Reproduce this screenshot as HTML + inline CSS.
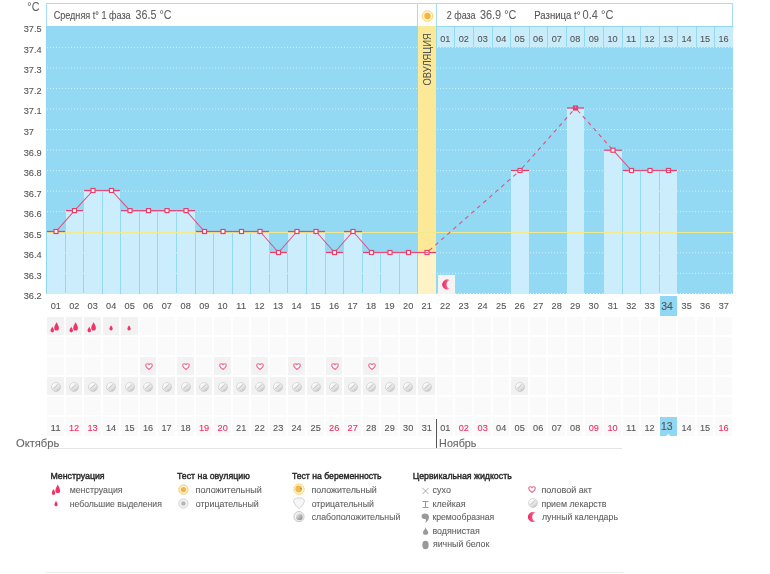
<!DOCTYPE html>
<html><head><meta charset="utf-8"><title>BBT chart</title>
<style>
*{margin:0;padding:0;box-sizing:border-box}
html,body{width:770px;height:574px;background:#fff;overflow:hidden}
body{position:relative;font-family:"Liberation Sans",sans-serif;color:#555}
.a{position:absolute}
svg text{font-family:"Liberation Sans",sans-serif}
</style></head><body>

<div class="a" style="left:46px;top:3px;width:687px;height:24px;border:1px solid #a6def5;border-bottom:none;background:#fff"></div>
<div class="a" style="left:417px;top:3px;width:1px;height:24px;background:#a6def5"></div>
<div class="a" style="left:436px;top:3px;width:1px;height:24px;background:#a6def5"></div>
<svg class="a" style="left:0;top:0" width="770" height="300" viewBox="0 0 770 300"><rect x="46" y="26" width="687" height="268" fill="#93d9f3"/>
<rect x="46" y="26" width="1" height="268" fill="#8fd6f1"/>
<line x1="47" y1="47.40" x2="733" y2="47.40" stroke="#fff" stroke-opacity="0.62" stroke-width="1" stroke-dasharray="1 2"/>
<line x1="47" y1="67.93" x2="733" y2="67.93" stroke="#fff" stroke-opacity="0.62" stroke-width="1" stroke-dasharray="1 2"/>
<line x1="47" y1="88.47" x2="733" y2="88.47" stroke="#fff" stroke-opacity="0.62" stroke-width="1" stroke-dasharray="1 2"/>
<line x1="47" y1="109.00" x2="733" y2="109.00" stroke="#fff" stroke-opacity="0.62" stroke-width="1" stroke-dasharray="1 2"/>
<line x1="47" y1="129.54" x2="733" y2="129.54" stroke="#fff" stroke-opacity="0.62" stroke-width="1" stroke-dasharray="1 2"/>
<line x1="47" y1="150.08" x2="733" y2="150.08" stroke="#fff" stroke-opacity="0.62" stroke-width="1" stroke-dasharray="1 2"/>
<line x1="47" y1="170.61" x2="733" y2="170.61" stroke="#fff" stroke-opacity="0.62" stroke-width="1" stroke-dasharray="1 2"/>
<line x1="47" y1="191.15" x2="733" y2="191.15" stroke="#fff" stroke-opacity="0.62" stroke-width="1" stroke-dasharray="1 2"/>
<line x1="47" y1="211.68" x2="733" y2="211.68" stroke="#fff" stroke-opacity="0.62" stroke-width="1" stroke-dasharray="1 2"/>
<line x1="47" y1="252.76" x2="733" y2="252.76" stroke="#fff" stroke-opacity="0.62" stroke-width="1" stroke-dasharray="1 2"/>
<line x1="47" y1="273.29" x2="733" y2="273.29" stroke="#fff" stroke-opacity="0.62" stroke-width="1" stroke-dasharray="1 2"/>
<line x1="47" y1="293.5" x2="733" y2="293.5" stroke="#fff" stroke-opacity="0.7" stroke-width="1" stroke-dasharray="1 2"/>
<rect x="418" y="26" width="18" height="268" fill="#fbe997"/>
<rect x="47" y="231.50" width="18" height="62.50" fill="#ccedfb"/>
<rect x="66" y="210.60" width="17" height="83.40" fill="#ccedfb"/>
<rect x="84" y="190.50" width="18" height="103.50" fill="#ccedfb"/>
<rect x="103" y="190.50" width="17" height="103.50" fill="#ccedfb"/>
<rect x="121" y="210.60" width="18" height="83.40" fill="#ccedfb"/>
<rect x="140" y="210.60" width="17" height="83.40" fill="#ccedfb"/>
<rect x="158" y="210.60" width="18" height="83.40" fill="#ccedfb"/>
<rect x="177" y="210.60" width="18" height="83.40" fill="#ccedfb"/>
<rect x="196" y="231.50" width="17" height="62.50" fill="#ccedfb"/>
<rect x="214" y="231.50" width="18" height="62.50" fill="#ccedfb"/>
<rect x="233" y="231.50" width="17" height="62.50" fill="#ccedfb"/>
<rect x="251" y="231.50" width="18" height="62.50" fill="#ccedfb"/>
<rect x="270" y="252.50" width="17" height="41.50" fill="#ccedfb"/>
<rect x="288" y="231.50" width="18" height="62.50" fill="#ccedfb"/>
<rect x="307" y="231.50" width="18" height="62.50" fill="#ccedfb"/>
<rect x="326" y="252.50" width="17" height="41.50" fill="#ccedfb"/>
<rect x="344" y="231.50" width="18" height="62.50" fill="#ccedfb"/>
<rect x="363" y="252.50" width="17" height="41.50" fill="#ccedfb"/>
<rect x="381" y="252.50" width="18" height="41.50" fill="#ccedfb"/>
<rect x="400" y="252.50" width="17" height="41.50" fill="#ccedfb"/>
<rect x="418" y="252.50" width="18" height="41.50" fill="#fdf3c6"/>
<rect x="511" y="170.50" width="18" height="123.50" fill="#ccedfb"/>
<rect x="567" y="108.00" width="17" height="186.00" fill="#ccedfb"/>
<rect x="604" y="150.20" width="18" height="143.80" fill="#ccedfb"/>
<rect x="623" y="170.50" width="17" height="123.50" fill="#ccedfb"/>
<rect x="641" y="170.50" width="18" height="123.50" fill="#ccedfb"/>
<rect x="660" y="170.50" width="17" height="123.50" fill="#ccedfb"/>
<rect x="437" y="27" width="17" height="20" fill="#c9ecfa"/>
<rect x="455" y="27" width="18" height="20" fill="#c9ecfa"/>
<rect x="474" y="27" width="18" height="20" fill="#c9ecfa"/>
<rect x="493" y="27" width="17" height="20" fill="#c9ecfa"/>
<rect x="511" y="27" width="18" height="20" fill="#c9ecfa"/>
<rect x="530" y="27" width="17" height="20" fill="#c9ecfa"/>
<rect x="548" y="27" width="18" height="20" fill="#c9ecfa"/>
<rect x="567" y="27" width="17" height="20" fill="#c9ecfa"/>
<rect x="585" y="27" width="18" height="20" fill="#c9ecfa"/>
<rect x="604" y="27" width="18" height="20" fill="#c9ecfa"/>
<rect x="623" y="27" width="17" height="20" fill="#c9ecfa"/>
<rect x="641" y="27" width="18" height="20" fill="#c9ecfa"/>
<rect x="660" y="27" width="17" height="20" fill="#c9ecfa"/>
<rect x="678" y="27" width="18" height="20" fill="#c9ecfa"/>
<rect x="697" y="27" width="17" height="20" fill="#c9ecfa"/>
<rect x="715" y="27" width="18" height="20" fill="#c9ecfa"/>
<line x1="47" y1="232.5" x2="733" y2="232.5" stroke="#f0ea8c" stroke-width="1"/>
<line x1="47" y1="231.50" x2="65" y2="231.50" stroke="#e83e6c" stroke-width="1.25"/>
<line x1="66" y1="210.60" x2="83" y2="210.60" stroke="#e83e6c" stroke-width="1.25"/>
<line x1="84" y1="190.50" x2="102" y2="190.50" stroke="#e83e6c" stroke-width="1.25"/>
<line x1="103" y1="190.50" x2="120" y2="190.50" stroke="#e83e6c" stroke-width="1.25"/>
<line x1="121" y1="210.60" x2="139" y2="210.60" stroke="#e83e6c" stroke-width="1.25"/>
<line x1="140" y1="210.60" x2="157" y2="210.60" stroke="#e83e6c" stroke-width="1.25"/>
<line x1="158" y1="210.60" x2="176" y2="210.60" stroke="#e83e6c" stroke-width="1.25"/>
<line x1="177" y1="210.60" x2="195" y2="210.60" stroke="#e83e6c" stroke-width="1.25"/>
<line x1="196" y1="231.50" x2="213" y2="231.50" stroke="#e83e6c" stroke-width="1.25"/>
<line x1="214" y1="231.50" x2="232" y2="231.50" stroke="#e83e6c" stroke-width="1.25"/>
<line x1="233" y1="231.50" x2="250" y2="231.50" stroke="#e83e6c" stroke-width="1.25"/>
<line x1="251" y1="231.50" x2="269" y2="231.50" stroke="#e83e6c" stroke-width="1.25"/>
<line x1="270" y1="252.50" x2="287" y2="252.50" stroke="#e83e6c" stroke-width="1.25"/>
<line x1="288" y1="231.50" x2="306" y2="231.50" stroke="#e83e6c" stroke-width="1.25"/>
<line x1="307" y1="231.50" x2="325" y2="231.50" stroke="#e83e6c" stroke-width="1.25"/>
<line x1="326" y1="252.50" x2="343" y2="252.50" stroke="#e83e6c" stroke-width="1.25"/>
<line x1="344" y1="231.50" x2="362" y2="231.50" stroke="#e83e6c" stroke-width="1.25"/>
<line x1="363" y1="252.50" x2="380" y2="252.50" stroke="#e83e6c" stroke-width="1.25"/>
<line x1="381" y1="252.50" x2="399" y2="252.50" stroke="#e83e6c" stroke-width="1.25"/>
<line x1="400" y1="252.50" x2="417" y2="252.50" stroke="#e83e6c" stroke-width="1.25"/>
<line x1="418" y1="252.50" x2="436" y2="252.50" stroke="#e83e6c" stroke-width="1.25"/>
<line x1="511" y1="170.50" x2="529" y2="170.50" stroke="#e83e6c" stroke-width="1.25"/>
<line x1="567" y1="108.00" x2="584" y2="108.00" stroke="#e83e6c" stroke-width="1.25"/>
<line x1="604" y1="150.20" x2="622" y2="150.20" stroke="#e83e6c" stroke-width="1.25"/>
<line x1="623" y1="170.50" x2="640" y2="170.50" stroke="#e83e6c" stroke-width="1.25"/>
<line x1="641" y1="170.50" x2="659" y2="170.50" stroke="#e83e6c" stroke-width="1.25"/>
<line x1="660" y1="170.50" x2="677" y2="170.50" stroke="#e83e6c" stroke-width="1.25"/>
<rect x="438" y="275" width="17" height="19" fill="#f4f4f4"/>
<path d="M7.68 0.78 A5 5 0 1 0 7.68 9.22 A4.3 4.3 0 0 1 7.68 0.78Z" fill="url(#mg)" transform="translate(442.3 279.4)"/>
<line x1="56.0" y1="231.5" x2="74.5" y2="210.6" stroke="#e64a78" stroke-width="1.05"/>
<line x1="74.5" y1="210.6" x2="93.0" y2="190.5" stroke="#e64a78" stroke-width="1.05"/>
<line x1="93.0" y1="190.5" x2="111.5" y2="190.5" stroke="#e64a78" stroke-width="1.05"/>
<line x1="111.5" y1="190.5" x2="130.0" y2="210.6" stroke="#e64a78" stroke-width="1.05"/>
<line x1="130.0" y1="210.6" x2="148.5" y2="210.6" stroke="#e64a78" stroke-width="1.05"/>
<line x1="148.5" y1="210.6" x2="167.0" y2="210.6" stroke="#e64a78" stroke-width="1.05"/>
<line x1="167.0" y1="210.6" x2="186.0" y2="210.6" stroke="#e64a78" stroke-width="1.05"/>
<line x1="186.0" y1="210.6" x2="204.5" y2="231.5" stroke="#e64a78" stroke-width="1.05"/>
<line x1="204.5" y1="231.5" x2="223.0" y2="231.5" stroke="#e64a78" stroke-width="1.05"/>
<line x1="223.0" y1="231.5" x2="241.5" y2="231.5" stroke="#e64a78" stroke-width="1.05"/>
<line x1="241.5" y1="231.5" x2="260.0" y2="231.5" stroke="#e64a78" stroke-width="1.05"/>
<line x1="260.0" y1="231.5" x2="278.5" y2="252.5" stroke="#e64a78" stroke-width="1.05"/>
<line x1="278.5" y1="252.5" x2="297.0" y2="231.5" stroke="#e64a78" stroke-width="1.05"/>
<line x1="297.0" y1="231.5" x2="316.0" y2="231.5" stroke="#e64a78" stroke-width="1.05"/>
<line x1="316.0" y1="231.5" x2="334.5" y2="252.5" stroke="#e64a78" stroke-width="1.05"/>
<line x1="334.5" y1="252.5" x2="353.0" y2="231.5" stroke="#e64a78" stroke-width="1.05"/>
<line x1="353.0" y1="231.5" x2="371.5" y2="252.5" stroke="#e64a78" stroke-width="1.05"/>
<line x1="371.5" y1="252.5" x2="390.0" y2="252.5" stroke="#e64a78" stroke-width="1.05"/>
<line x1="390.0" y1="252.5" x2="408.5" y2="252.5" stroke="#e64a78" stroke-width="1.05"/>
<line x1="408.5" y1="252.5" x2="427.0" y2="252.5" stroke="#e64a78" stroke-width="1.05"/>
<line x1="427.0" y1="252.5" x2="520.0" y2="170.5" stroke="#e64a78" stroke-width="1.05" stroke-dasharray="4 4" stroke-dashoffset="-3"/>
<line x1="520.0" y1="170.5" x2="575.5" y2="108.0" stroke="#e64a78" stroke-width="1.05" stroke-dasharray="4 4" stroke-dashoffset="-3"/>
<line x1="575.5" y1="108.0" x2="613.0" y2="150.2" stroke="#e64a78" stroke-width="1.05" stroke-dasharray="4 4" stroke-dashoffset="-3"/>
<line x1="613.0" y1="150.2" x2="631.5" y2="170.5" stroke="#e64a78" stroke-width="1.05"/>
<line x1="631.5" y1="170.5" x2="650.0" y2="170.5" stroke="#e64a78" stroke-width="1.05"/>
<line x1="650.0" y1="170.5" x2="668.5" y2="170.5" stroke="#e64a78" stroke-width="1.05"/>
<rect x="54.0" y="229.5" width="4" height="4" fill="#fff" stroke="#e83e6c" stroke-width="1.2"/>
<rect x="72.5" y="208.6" width="4" height="4" fill="#fff" stroke="#e83e6c" stroke-width="1.2"/>
<rect x="91.0" y="188.5" width="4" height="4" fill="#fff" stroke="#e83e6c" stroke-width="1.2"/>
<rect x="109.5" y="188.5" width="4" height="4" fill="#fff" stroke="#e83e6c" stroke-width="1.2"/>
<rect x="128.0" y="208.6" width="4" height="4" fill="#fff" stroke="#e83e6c" stroke-width="1.2"/>
<rect x="146.5" y="208.6" width="4" height="4" fill="#fff" stroke="#e83e6c" stroke-width="1.2"/>
<rect x="165.0" y="208.6" width="4" height="4" fill="#fff" stroke="#e83e6c" stroke-width="1.2"/>
<rect x="184.0" y="208.6" width="4" height="4" fill="#fff" stroke="#e83e6c" stroke-width="1.2"/>
<rect x="202.5" y="229.5" width="4" height="4" fill="#fff" stroke="#e83e6c" stroke-width="1.2"/>
<rect x="221.0" y="229.5" width="4" height="4" fill="#fff" stroke="#e83e6c" stroke-width="1.2"/>
<rect x="239.5" y="229.5" width="4" height="4" fill="#fff" stroke="#e83e6c" stroke-width="1.2"/>
<rect x="258.0" y="229.5" width="4" height="4" fill="#fff" stroke="#e83e6c" stroke-width="1.2"/>
<rect x="276.5" y="250.5" width="4" height="4" fill="#fff" stroke="#e83e6c" stroke-width="1.2"/>
<rect x="295.0" y="229.5" width="4" height="4" fill="#fff" stroke="#e83e6c" stroke-width="1.2"/>
<rect x="314.0" y="229.5" width="4" height="4" fill="#fff" stroke="#e83e6c" stroke-width="1.2"/>
<rect x="332.5" y="250.5" width="4" height="4" fill="#fff" stroke="#e83e6c" stroke-width="1.2"/>
<rect x="351.0" y="229.5" width="4" height="4" fill="#fff" stroke="#e83e6c" stroke-width="1.2"/>
<rect x="369.5" y="250.5" width="4" height="4" fill="#fff" stroke="#e83e6c" stroke-width="1.2"/>
<rect x="388.0" y="250.5" width="4" height="4" fill="#fff" stroke="#e83e6c" stroke-width="1.2"/>
<rect x="406.5" y="250.5" width="4" height="4" fill="#fff" stroke="#e83e6c" stroke-width="1.2"/>
<rect x="425.0" y="250.5" width="4" height="4" fill="#fff" stroke="#e83e6c" stroke-width="1.2"/>
<line x1="425.5" y1="252.5" x2="428.5" y2="252.5" stroke="#e83e6c" stroke-width="1" stroke-opacity="0.8"/>
<rect x="518.0" y="168.5" width="4" height="4" fill="#fff" stroke="#e83e6c" stroke-width="1.2"/>
<line x1="518.5" y1="170.5" x2="521.5" y2="170.5" stroke="#e83e6c" stroke-width="1" stroke-opacity="0.8"/>
<rect x="573.5" y="106.0" width="4" height="4" fill="#e83e6c" stroke="#e83e6c" stroke-width="1.2"/>
<rect x="575.0" y="106.5" width="1.2" height="1.2" fill="#f7a0b8"/>
<rect x="611.0" y="148.2" width="4" height="4" fill="#fff" stroke="#e83e6c" stroke-width="1.2"/>
<rect x="629.5" y="168.5" width="4" height="4" fill="#fff" stroke="#e83e6c" stroke-width="1.2"/>
<rect x="648.0" y="168.5" width="4" height="4" fill="#fff" stroke="#e83e6c" stroke-width="1.2"/>
<rect x="666.5" y="168.5" width="4" height="4" fill="#fff" stroke="#e83e6c" stroke-width="1.2"/>
<line x1="667.0" y1="170.5" x2="670.0" y2="170.5" stroke="#e83e6c" stroke-width="1" stroke-opacity="0.8"/></svg>
<div class="a" style="left:660px;top:296px;width:17px;height:20px;background:#8fd7f2"></div>
<div class="a" style="left:47px;top:317px;width:17px;height:18px;background:#f2f2f2"></div>
<div class="a" style="left:66px;top:317px;width:16px;height:18px;background:#f2f2f2"></div>
<div class="a" style="left:84px;top:317px;width:17px;height:18px;background:#f2f2f2"></div>
<div class="a" style="left:103px;top:317px;width:16px;height:18px;background:#f2f2f2"></div>
<div class="a" style="left:121px;top:317px;width:17px;height:18px;background:#f2f2f2"></div>
<div class="a" style="left:140px;top:317px;width:16px;height:18px;background:#fafafa"></div>
<div class="a" style="left:158px;top:317px;width:17px;height:18px;background:#fafafa"></div>
<div class="a" style="left:177px;top:317px;width:17px;height:18px;background:#fafafa"></div>
<div class="a" style="left:196px;top:317px;width:16px;height:18px;background:#fafafa"></div>
<div class="a" style="left:214px;top:317px;width:17px;height:18px;background:#fafafa"></div>
<div class="a" style="left:233px;top:317px;width:16px;height:18px;background:#fafafa"></div>
<div class="a" style="left:251px;top:317px;width:17px;height:18px;background:#fafafa"></div>
<div class="a" style="left:270px;top:317px;width:16px;height:18px;background:#fafafa"></div>
<div class="a" style="left:288px;top:317px;width:17px;height:18px;background:#fafafa"></div>
<div class="a" style="left:307px;top:317px;width:17px;height:18px;background:#fafafa"></div>
<div class="a" style="left:326px;top:317px;width:16px;height:18px;background:#fafafa"></div>
<div class="a" style="left:344px;top:317px;width:17px;height:18px;background:#fafafa"></div>
<div class="a" style="left:363px;top:317px;width:16px;height:18px;background:#fafafa"></div>
<div class="a" style="left:381px;top:317px;width:17px;height:18px;background:#fafafa"></div>
<div class="a" style="left:400px;top:317px;width:16px;height:18px;background:#fafafa"></div>
<div class="a" style="left:418px;top:317px;width:17px;height:18px;background:#fafafa"></div>
<div class="a" style="left:437px;top:317px;width:16px;height:18px;background:#fafafa"></div>
<div class="a" style="left:455px;top:317px;width:17px;height:18px;background:#fafafa"></div>
<div class="a" style="left:474px;top:317px;width:17px;height:18px;background:#fafafa"></div>
<div class="a" style="left:493px;top:317px;width:16px;height:18px;background:#fafafa"></div>
<div class="a" style="left:511px;top:317px;width:17px;height:18px;background:#fafafa"></div>
<div class="a" style="left:530px;top:317px;width:16px;height:18px;background:#fafafa"></div>
<div class="a" style="left:548px;top:317px;width:17px;height:18px;background:#fafafa"></div>
<div class="a" style="left:567px;top:317px;width:16px;height:18px;background:#fafafa"></div>
<div class="a" style="left:585px;top:317px;width:17px;height:18px;background:#fafafa"></div>
<div class="a" style="left:604px;top:317px;width:17px;height:18px;background:#fafafa"></div>
<div class="a" style="left:623px;top:317px;width:16px;height:18px;background:#fafafa"></div>
<div class="a" style="left:641px;top:317px;width:17px;height:18px;background:#fafafa"></div>
<div class="a" style="left:660px;top:317px;width:16px;height:18px;background:#fafafa"></div>
<div class="a" style="left:678px;top:317px;width:17px;height:18px;background:#fafafa"></div>
<div class="a" style="left:697px;top:317px;width:16px;height:18px;background:#fafafa"></div>
<div class="a" style="left:715px;top:317px;width:17px;height:18px;background:#fafafa"></div>
<div class="a" style="left:47px;top:337px;width:17px;height:18px;background:#fafafa"></div>
<div class="a" style="left:66px;top:337px;width:16px;height:18px;background:#fafafa"></div>
<div class="a" style="left:84px;top:337px;width:17px;height:18px;background:#fafafa"></div>
<div class="a" style="left:103px;top:337px;width:16px;height:18px;background:#fafafa"></div>
<div class="a" style="left:121px;top:337px;width:17px;height:18px;background:#fafafa"></div>
<div class="a" style="left:140px;top:337px;width:16px;height:18px;background:#fafafa"></div>
<div class="a" style="left:158px;top:337px;width:17px;height:18px;background:#fafafa"></div>
<div class="a" style="left:177px;top:337px;width:17px;height:18px;background:#fafafa"></div>
<div class="a" style="left:196px;top:337px;width:16px;height:18px;background:#fafafa"></div>
<div class="a" style="left:214px;top:337px;width:17px;height:18px;background:#fafafa"></div>
<div class="a" style="left:233px;top:337px;width:16px;height:18px;background:#fafafa"></div>
<div class="a" style="left:251px;top:337px;width:17px;height:18px;background:#fafafa"></div>
<div class="a" style="left:270px;top:337px;width:16px;height:18px;background:#fafafa"></div>
<div class="a" style="left:288px;top:337px;width:17px;height:18px;background:#fafafa"></div>
<div class="a" style="left:307px;top:337px;width:17px;height:18px;background:#fafafa"></div>
<div class="a" style="left:326px;top:337px;width:16px;height:18px;background:#fafafa"></div>
<div class="a" style="left:344px;top:337px;width:17px;height:18px;background:#fafafa"></div>
<div class="a" style="left:363px;top:337px;width:16px;height:18px;background:#fafafa"></div>
<div class="a" style="left:381px;top:337px;width:17px;height:18px;background:#fafafa"></div>
<div class="a" style="left:400px;top:337px;width:16px;height:18px;background:#fafafa"></div>
<div class="a" style="left:418px;top:337px;width:17px;height:18px;background:#fafafa"></div>
<div class="a" style="left:437px;top:337px;width:16px;height:18px;background:#fafafa"></div>
<div class="a" style="left:455px;top:337px;width:17px;height:18px;background:#fafafa"></div>
<div class="a" style="left:474px;top:337px;width:17px;height:18px;background:#fafafa"></div>
<div class="a" style="left:493px;top:337px;width:16px;height:18px;background:#fafafa"></div>
<div class="a" style="left:511px;top:337px;width:17px;height:18px;background:#fafafa"></div>
<div class="a" style="left:530px;top:337px;width:16px;height:18px;background:#fafafa"></div>
<div class="a" style="left:548px;top:337px;width:17px;height:18px;background:#fafafa"></div>
<div class="a" style="left:567px;top:337px;width:16px;height:18px;background:#fafafa"></div>
<div class="a" style="left:585px;top:337px;width:17px;height:18px;background:#fafafa"></div>
<div class="a" style="left:604px;top:337px;width:17px;height:18px;background:#fafafa"></div>
<div class="a" style="left:623px;top:337px;width:16px;height:18px;background:#fafafa"></div>
<div class="a" style="left:641px;top:337px;width:17px;height:18px;background:#fafafa"></div>
<div class="a" style="left:660px;top:337px;width:16px;height:18px;background:#fafafa"></div>
<div class="a" style="left:678px;top:337px;width:17px;height:18px;background:#fafafa"></div>
<div class="a" style="left:697px;top:337px;width:16px;height:18px;background:#fafafa"></div>
<div class="a" style="left:715px;top:337px;width:17px;height:18px;background:#fafafa"></div>
<div class="a" style="left:47px;top:357px;width:17px;height:18px;background:#fafafa"></div>
<div class="a" style="left:66px;top:357px;width:16px;height:18px;background:#fafafa"></div>
<div class="a" style="left:84px;top:357px;width:17px;height:18px;background:#fafafa"></div>
<div class="a" style="left:103px;top:357px;width:16px;height:18px;background:#fafafa"></div>
<div class="a" style="left:121px;top:357px;width:17px;height:18px;background:#fafafa"></div>
<div class="a" style="left:140px;top:357px;width:16px;height:18px;background:#f2f2f2"></div>
<div class="a" style="left:158px;top:357px;width:17px;height:18px;background:#fafafa"></div>
<div class="a" style="left:177px;top:357px;width:17px;height:18px;background:#f2f2f2"></div>
<div class="a" style="left:196px;top:357px;width:16px;height:18px;background:#fafafa"></div>
<div class="a" style="left:214px;top:357px;width:17px;height:18px;background:#f2f2f2"></div>
<div class="a" style="left:233px;top:357px;width:16px;height:18px;background:#fafafa"></div>
<div class="a" style="left:251px;top:357px;width:17px;height:18px;background:#f2f2f2"></div>
<div class="a" style="left:270px;top:357px;width:16px;height:18px;background:#fafafa"></div>
<div class="a" style="left:288px;top:357px;width:17px;height:18px;background:#f2f2f2"></div>
<div class="a" style="left:307px;top:357px;width:17px;height:18px;background:#fafafa"></div>
<div class="a" style="left:326px;top:357px;width:16px;height:18px;background:#f2f2f2"></div>
<div class="a" style="left:344px;top:357px;width:17px;height:18px;background:#fafafa"></div>
<div class="a" style="left:363px;top:357px;width:16px;height:18px;background:#f2f2f2"></div>
<div class="a" style="left:381px;top:357px;width:17px;height:18px;background:#fafafa"></div>
<div class="a" style="left:400px;top:357px;width:16px;height:18px;background:#fafafa"></div>
<div class="a" style="left:418px;top:357px;width:17px;height:18px;background:#fafafa"></div>
<div class="a" style="left:437px;top:357px;width:16px;height:18px;background:#fafafa"></div>
<div class="a" style="left:455px;top:357px;width:17px;height:18px;background:#fafafa"></div>
<div class="a" style="left:474px;top:357px;width:17px;height:18px;background:#fafafa"></div>
<div class="a" style="left:493px;top:357px;width:16px;height:18px;background:#fafafa"></div>
<div class="a" style="left:511px;top:357px;width:17px;height:18px;background:#fafafa"></div>
<div class="a" style="left:530px;top:357px;width:16px;height:18px;background:#fafafa"></div>
<div class="a" style="left:548px;top:357px;width:17px;height:18px;background:#fafafa"></div>
<div class="a" style="left:567px;top:357px;width:16px;height:18px;background:#fafafa"></div>
<div class="a" style="left:585px;top:357px;width:17px;height:18px;background:#fafafa"></div>
<div class="a" style="left:604px;top:357px;width:17px;height:18px;background:#fafafa"></div>
<div class="a" style="left:623px;top:357px;width:16px;height:18px;background:#fafafa"></div>
<div class="a" style="left:641px;top:357px;width:17px;height:18px;background:#fafafa"></div>
<div class="a" style="left:660px;top:357px;width:16px;height:18px;background:#fafafa"></div>
<div class="a" style="left:678px;top:357px;width:17px;height:18px;background:#fafafa"></div>
<div class="a" style="left:697px;top:357px;width:16px;height:18px;background:#fafafa"></div>
<div class="a" style="left:715px;top:357px;width:17px;height:18px;background:#fafafa"></div>
<div class="a" style="left:47px;top:377px;width:17px;height:18px;background:#f2f2f2"></div>
<div class="a" style="left:66px;top:377px;width:16px;height:18px;background:#f2f2f2"></div>
<div class="a" style="left:84px;top:377px;width:17px;height:18px;background:#f2f2f2"></div>
<div class="a" style="left:103px;top:377px;width:16px;height:18px;background:#f2f2f2"></div>
<div class="a" style="left:121px;top:377px;width:17px;height:18px;background:#f2f2f2"></div>
<div class="a" style="left:140px;top:377px;width:16px;height:18px;background:#f2f2f2"></div>
<div class="a" style="left:158px;top:377px;width:17px;height:18px;background:#f2f2f2"></div>
<div class="a" style="left:177px;top:377px;width:17px;height:18px;background:#f2f2f2"></div>
<div class="a" style="left:196px;top:377px;width:16px;height:18px;background:#f2f2f2"></div>
<div class="a" style="left:214px;top:377px;width:17px;height:18px;background:#f2f2f2"></div>
<div class="a" style="left:233px;top:377px;width:16px;height:18px;background:#f2f2f2"></div>
<div class="a" style="left:251px;top:377px;width:17px;height:18px;background:#f2f2f2"></div>
<div class="a" style="left:270px;top:377px;width:16px;height:18px;background:#f2f2f2"></div>
<div class="a" style="left:288px;top:377px;width:17px;height:18px;background:#f2f2f2"></div>
<div class="a" style="left:307px;top:377px;width:17px;height:18px;background:#f2f2f2"></div>
<div class="a" style="left:326px;top:377px;width:16px;height:18px;background:#f2f2f2"></div>
<div class="a" style="left:344px;top:377px;width:17px;height:18px;background:#f2f2f2"></div>
<div class="a" style="left:363px;top:377px;width:16px;height:18px;background:#f2f2f2"></div>
<div class="a" style="left:381px;top:377px;width:17px;height:18px;background:#f2f2f2"></div>
<div class="a" style="left:400px;top:377px;width:16px;height:18px;background:#f2f2f2"></div>
<div class="a" style="left:418px;top:377px;width:17px;height:18px;background:#f2f2f2"></div>
<div class="a" style="left:437px;top:377px;width:16px;height:18px;background:#fafafa"></div>
<div class="a" style="left:455px;top:377px;width:17px;height:18px;background:#fafafa"></div>
<div class="a" style="left:474px;top:377px;width:17px;height:18px;background:#fafafa"></div>
<div class="a" style="left:493px;top:377px;width:16px;height:18px;background:#fafafa"></div>
<div class="a" style="left:511px;top:377px;width:17px;height:18px;background:#f2f2f2"></div>
<div class="a" style="left:530px;top:377px;width:16px;height:18px;background:#fafafa"></div>
<div class="a" style="left:548px;top:377px;width:17px;height:18px;background:#fafafa"></div>
<div class="a" style="left:567px;top:377px;width:16px;height:18px;background:#fafafa"></div>
<div class="a" style="left:585px;top:377px;width:17px;height:18px;background:#fafafa"></div>
<div class="a" style="left:604px;top:377px;width:17px;height:18px;background:#fafafa"></div>
<div class="a" style="left:623px;top:377px;width:16px;height:18px;background:#fafafa"></div>
<div class="a" style="left:641px;top:377px;width:17px;height:18px;background:#fafafa"></div>
<div class="a" style="left:660px;top:377px;width:16px;height:18px;background:#fafafa"></div>
<div class="a" style="left:678px;top:377px;width:17px;height:18px;background:#fafafa"></div>
<div class="a" style="left:697px;top:377px;width:16px;height:18px;background:#fafafa"></div>
<div class="a" style="left:715px;top:377px;width:17px;height:18px;background:#fafafa"></div>
<div class="a" style="left:47px;top:397px;width:17px;height:18px;background:#fafafa"></div>
<div class="a" style="left:66px;top:397px;width:16px;height:18px;background:#fafafa"></div>
<div class="a" style="left:84px;top:397px;width:17px;height:18px;background:#fafafa"></div>
<div class="a" style="left:103px;top:397px;width:16px;height:18px;background:#fafafa"></div>
<div class="a" style="left:121px;top:397px;width:17px;height:18px;background:#fafafa"></div>
<div class="a" style="left:140px;top:397px;width:16px;height:18px;background:#fafafa"></div>
<div class="a" style="left:158px;top:397px;width:17px;height:18px;background:#fafafa"></div>
<div class="a" style="left:177px;top:397px;width:17px;height:18px;background:#fafafa"></div>
<div class="a" style="left:196px;top:397px;width:16px;height:18px;background:#fafafa"></div>
<div class="a" style="left:214px;top:397px;width:17px;height:18px;background:#fafafa"></div>
<div class="a" style="left:233px;top:397px;width:16px;height:18px;background:#fafafa"></div>
<div class="a" style="left:251px;top:397px;width:17px;height:18px;background:#fafafa"></div>
<div class="a" style="left:270px;top:397px;width:16px;height:18px;background:#fafafa"></div>
<div class="a" style="left:288px;top:397px;width:17px;height:18px;background:#fafafa"></div>
<div class="a" style="left:307px;top:397px;width:17px;height:18px;background:#fafafa"></div>
<div class="a" style="left:326px;top:397px;width:16px;height:18px;background:#fafafa"></div>
<div class="a" style="left:344px;top:397px;width:17px;height:18px;background:#fafafa"></div>
<div class="a" style="left:363px;top:397px;width:16px;height:18px;background:#fafafa"></div>
<div class="a" style="left:381px;top:397px;width:17px;height:18px;background:#fafafa"></div>
<div class="a" style="left:400px;top:397px;width:16px;height:18px;background:#fafafa"></div>
<div class="a" style="left:418px;top:397px;width:17px;height:18px;background:#fafafa"></div>
<div class="a" style="left:437px;top:397px;width:16px;height:18px;background:#fafafa"></div>
<div class="a" style="left:455px;top:397px;width:17px;height:18px;background:#fafafa"></div>
<div class="a" style="left:474px;top:397px;width:17px;height:18px;background:#fafafa"></div>
<div class="a" style="left:493px;top:397px;width:16px;height:18px;background:#fafafa"></div>
<div class="a" style="left:511px;top:397px;width:17px;height:18px;background:#fafafa"></div>
<div class="a" style="left:530px;top:397px;width:16px;height:18px;background:#fafafa"></div>
<div class="a" style="left:548px;top:397px;width:17px;height:18px;background:#fafafa"></div>
<div class="a" style="left:567px;top:397px;width:16px;height:18px;background:#fafafa"></div>
<div class="a" style="left:585px;top:397px;width:17px;height:18px;background:#fafafa"></div>
<div class="a" style="left:604px;top:397px;width:17px;height:18px;background:#fafafa"></div>
<div class="a" style="left:623px;top:397px;width:16px;height:18px;background:#fafafa"></div>
<div class="a" style="left:641px;top:397px;width:17px;height:18px;background:#fafafa"></div>
<div class="a" style="left:660px;top:397px;width:16px;height:18px;background:#fafafa"></div>
<div class="a" style="left:678px;top:397px;width:17px;height:18px;background:#fafafa"></div>
<div class="a" style="left:697px;top:397px;width:16px;height:18px;background:#fafafa"></div>
<div class="a" style="left:715px;top:397px;width:17px;height:18px;background:#fafafa"></div>
<div class="a" style="left:47px;top:417px;width:17px;height:19px;background:#fafafa"></div>
<div class="a" style="left:66px;top:417px;width:16px;height:19px;background:#fafafa"></div>
<div class="a" style="left:84px;top:417px;width:17px;height:19px;background:#fafafa"></div>
<div class="a" style="left:103px;top:417px;width:16px;height:19px;background:#fafafa"></div>
<div class="a" style="left:121px;top:417px;width:17px;height:19px;background:#fafafa"></div>
<div class="a" style="left:140px;top:417px;width:16px;height:19px;background:#fafafa"></div>
<div class="a" style="left:158px;top:417px;width:17px;height:19px;background:#fafafa"></div>
<div class="a" style="left:177px;top:417px;width:17px;height:19px;background:#fafafa"></div>
<div class="a" style="left:196px;top:417px;width:16px;height:19px;background:#fafafa"></div>
<div class="a" style="left:214px;top:417px;width:17px;height:19px;background:#fafafa"></div>
<div class="a" style="left:233px;top:417px;width:16px;height:19px;background:#fafafa"></div>
<div class="a" style="left:251px;top:417px;width:17px;height:19px;background:#fafafa"></div>
<div class="a" style="left:270px;top:417px;width:16px;height:19px;background:#fafafa"></div>
<div class="a" style="left:288px;top:417px;width:17px;height:19px;background:#fafafa"></div>
<div class="a" style="left:307px;top:417px;width:17px;height:19px;background:#fafafa"></div>
<div class="a" style="left:326px;top:417px;width:16px;height:19px;background:#fafafa"></div>
<div class="a" style="left:344px;top:417px;width:17px;height:19px;background:#fafafa"></div>
<div class="a" style="left:363px;top:417px;width:16px;height:19px;background:#fafafa"></div>
<div class="a" style="left:381px;top:417px;width:17px;height:19px;background:#fafafa"></div>
<div class="a" style="left:400px;top:417px;width:16px;height:19px;background:#fafafa"></div>
<div class="a" style="left:418px;top:417px;width:17px;height:19px;background:#fafafa"></div>
<div class="a" style="left:437px;top:417px;width:16px;height:19px;background:#fafafa"></div>
<div class="a" style="left:455px;top:417px;width:17px;height:19px;background:#fafafa"></div>
<div class="a" style="left:474px;top:417px;width:17px;height:19px;background:#fafafa"></div>
<div class="a" style="left:493px;top:417px;width:16px;height:19px;background:#fafafa"></div>
<div class="a" style="left:511px;top:417px;width:17px;height:19px;background:#fafafa"></div>
<div class="a" style="left:530px;top:417px;width:16px;height:19px;background:#fafafa"></div>
<div class="a" style="left:548px;top:417px;width:17px;height:19px;background:#fafafa"></div>
<div class="a" style="left:567px;top:417px;width:16px;height:19px;background:#fafafa"></div>
<div class="a" style="left:585px;top:417px;width:17px;height:19px;background:#fafafa"></div>
<div class="a" style="left:604px;top:417px;width:17px;height:19px;background:#fafafa"></div>
<div class="a" style="left:623px;top:417px;width:16px;height:19px;background:#fafafa"></div>
<div class="a" style="left:641px;top:417px;width:17px;height:19px;background:#fafafa"></div>
<div class="a" style="left:660px;top:417px;width:16px;height:19px;background:#fafafa"></div>
<div class="a" style="left:678px;top:417px;width:17px;height:19px;background:#fafafa"></div>
<div class="a" style="left:697px;top:417px;width:16px;height:19px;background:#fafafa"></div>
<div class="a" style="left:715px;top:417px;width:17px;height:19px;background:#fafafa"></div>
<svg width="0" height="0" style="position:absolute"><defs><linearGradient id="mg" x1="0" y1="0" x2="1" y2="0"><stop offset="0" stop-color="#ec2c62"/><stop offset="0.55" stop-color="#f2517f"/><stop offset="1" stop-color="#fbb6c9"/></linearGradient><linearGradient id="gg" x1="0.1" y1="0.1" x2="0.9" y2="0.9"><stop offset="0" stop-color="#e6e6e6"/><stop offset="1" stop-color="#8c8c8c"/></linearGradient><linearGradient id="pg" x1="0.2" y1="0.15" x2="0.8" y2="0.95"><stop offset="0" stop-color="#ffffff"/><stop offset="0.55" stop-color="#e8e8e8"/><stop offset="1" stop-color="#c2c2c2"/></linearGradient></defs></svg>
<svg class="a" style="left:145px;top:363px" width="8" height="7" viewBox="0 0 8 7"><path d="M4 6.4 C2.6 5.3 0.7 3.9 0.7 2.4 C0.7 1.3 1.5 0.7 2.3 0.7 C3.1 0.7 3.7 1.2 4 1.8 C4.3 1.2 4.9 0.7 5.7 0.7 C6.5 0.7 7.3 1.3 7.3 2.4 C7.3 3.9 5.4 5.3 4 6.4Z" fill="#fff" stroke="#f0668b" stroke-width="1.15" stroke-linejoin="round"/></svg>
<svg class="a" style="left:182px;top:363px" width="8" height="7" viewBox="0 0 8 7"><path d="M4 6.4 C2.6 5.3 0.7 3.9 0.7 2.4 C0.7 1.3 1.5 0.7 2.3 0.7 C3.1 0.7 3.7 1.2 4 1.8 C4.3 1.2 4.9 0.7 5.7 0.7 C6.5 0.7 7.3 1.3 7.3 2.4 C7.3 3.9 5.4 5.3 4 6.4Z" fill="#fff" stroke="#f0668b" stroke-width="1.15" stroke-linejoin="round"/></svg>
<svg class="a" style="left:219px;top:363px" width="8" height="7" viewBox="0 0 8 7"><path d="M4 6.4 C2.6 5.3 0.7 3.9 0.7 2.4 C0.7 1.3 1.5 0.7 2.3 0.7 C3.1 0.7 3.7 1.2 4 1.8 C4.3 1.2 4.9 0.7 5.7 0.7 C6.5 0.7 7.3 1.3 7.3 2.4 C7.3 3.9 5.4 5.3 4 6.4Z" fill="#fff" stroke="#f0668b" stroke-width="1.15" stroke-linejoin="round"/></svg>
<svg class="a" style="left:256px;top:363px" width="8" height="7" viewBox="0 0 8 7"><path d="M4 6.4 C2.6 5.3 0.7 3.9 0.7 2.4 C0.7 1.3 1.5 0.7 2.3 0.7 C3.1 0.7 3.7 1.2 4 1.8 C4.3 1.2 4.9 0.7 5.7 0.7 C6.5 0.7 7.3 1.3 7.3 2.4 C7.3 3.9 5.4 5.3 4 6.4Z" fill="#fff" stroke="#f0668b" stroke-width="1.15" stroke-linejoin="round"/></svg>
<svg class="a" style="left:293px;top:363px" width="8" height="7" viewBox="0 0 8 7"><path d="M4 6.4 C2.6 5.3 0.7 3.9 0.7 2.4 C0.7 1.3 1.5 0.7 2.3 0.7 C3.1 0.7 3.7 1.2 4 1.8 C4.3 1.2 4.9 0.7 5.7 0.7 C6.5 0.7 7.3 1.3 7.3 2.4 C7.3 3.9 5.4 5.3 4 6.4Z" fill="#fff" stroke="#f0668b" stroke-width="1.15" stroke-linejoin="round"/></svg>
<svg class="a" style="left:331px;top:363px" width="8" height="7" viewBox="0 0 8 7"><path d="M4 6.4 C2.6 5.3 0.7 3.9 0.7 2.4 C0.7 1.3 1.5 0.7 2.3 0.7 C3.1 0.7 3.7 1.2 4 1.8 C4.3 1.2 4.9 0.7 5.7 0.7 C6.5 0.7 7.3 1.3 7.3 2.4 C7.3 3.9 5.4 5.3 4 6.4Z" fill="#fff" stroke="#f0668b" stroke-width="1.15" stroke-linejoin="round"/></svg>
<svg class="a" style="left:368px;top:363px" width="8" height="7" viewBox="0 0 8 7"><path d="M4 6.4 C2.6 5.3 0.7 3.9 0.7 2.4 C0.7 1.3 1.5 0.7 2.3 0.7 C3.1 0.7 3.7 1.2 4 1.8 C4.3 1.2 4.9 0.7 5.7 0.7 C6.5 0.7 7.3 1.3 7.3 2.4 C7.3 3.9 5.4 5.3 4 6.4Z" fill="#fff" stroke="#f0668b" stroke-width="1.15" stroke-linejoin="round"/></svg>
<svg class="a" style="left:51px;top:382px" width="10" height="10" viewBox="0 0 10 10"><circle cx="5" cy="5" r="4.5" fill="url(#pg)" stroke="#cacaca" stroke-width="0.7"/><line x1="2.3" y1="7.1" x2="7.1" y2="2.3" stroke="#b4b4b4" stroke-width="0.9"/></svg>
<svg class="a" style="left:69px;top:382px" width="10" height="10" viewBox="0 0 10 10"><circle cx="5" cy="5" r="4.5" fill="url(#pg)" stroke="#cacaca" stroke-width="0.7"/><line x1="2.3" y1="7.1" x2="7.1" y2="2.3" stroke="#b4b4b4" stroke-width="0.9"/></svg>
<svg class="a" style="left:88px;top:382px" width="10" height="10" viewBox="0 0 10 10"><circle cx="5" cy="5" r="4.5" fill="url(#pg)" stroke="#cacaca" stroke-width="0.7"/><line x1="2.3" y1="7.1" x2="7.1" y2="2.3" stroke="#b4b4b4" stroke-width="0.9"/></svg>
<svg class="a" style="left:106px;top:382px" width="10" height="10" viewBox="0 0 10 10"><circle cx="5" cy="5" r="4.5" fill="url(#pg)" stroke="#cacaca" stroke-width="0.7"/><line x1="2.3" y1="7.1" x2="7.1" y2="2.3" stroke="#b4b4b4" stroke-width="0.9"/></svg>
<svg class="a" style="left:125px;top:382px" width="10" height="10" viewBox="0 0 10 10"><circle cx="5" cy="5" r="4.5" fill="url(#pg)" stroke="#cacaca" stroke-width="0.7"/><line x1="2.3" y1="7.1" x2="7.1" y2="2.3" stroke="#b4b4b4" stroke-width="0.9"/></svg>
<svg class="a" style="left:143px;top:382px" width="10" height="10" viewBox="0 0 10 10"><circle cx="5" cy="5" r="4.5" fill="url(#pg)" stroke="#cacaca" stroke-width="0.7"/><line x1="2.3" y1="7.1" x2="7.1" y2="2.3" stroke="#b4b4b4" stroke-width="0.9"/></svg>
<svg class="a" style="left:162px;top:382px" width="10" height="10" viewBox="0 0 10 10"><circle cx="5" cy="5" r="4.5" fill="url(#pg)" stroke="#cacaca" stroke-width="0.7"/><line x1="2.3" y1="7.1" x2="7.1" y2="2.3" stroke="#b4b4b4" stroke-width="0.9"/></svg>
<svg class="a" style="left:181px;top:382px" width="10" height="10" viewBox="0 0 10 10"><circle cx="5" cy="5" r="4.5" fill="url(#pg)" stroke="#cacaca" stroke-width="0.7"/><line x1="2.3" y1="7.1" x2="7.1" y2="2.3" stroke="#b4b4b4" stroke-width="0.9"/></svg>
<svg class="a" style="left:199px;top:382px" width="10" height="10" viewBox="0 0 10 10"><circle cx="5" cy="5" r="4.5" fill="url(#pg)" stroke="#cacaca" stroke-width="0.7"/><line x1="2.3" y1="7.1" x2="7.1" y2="2.3" stroke="#b4b4b4" stroke-width="0.9"/></svg>
<svg class="a" style="left:218px;top:382px" width="10" height="10" viewBox="0 0 10 10"><circle cx="5" cy="5" r="4.5" fill="url(#pg)" stroke="#cacaca" stroke-width="0.7"/><line x1="2.3" y1="7.1" x2="7.1" y2="2.3" stroke="#b4b4b4" stroke-width="0.9"/></svg>
<svg class="a" style="left:236px;top:382px" width="10" height="10" viewBox="0 0 10 10"><circle cx="5" cy="5" r="4.5" fill="url(#pg)" stroke="#cacaca" stroke-width="0.7"/><line x1="2.3" y1="7.1" x2="7.1" y2="2.3" stroke="#b4b4b4" stroke-width="0.9"/></svg>
<svg class="a" style="left:255px;top:382px" width="10" height="10" viewBox="0 0 10 10"><circle cx="5" cy="5" r="4.5" fill="url(#pg)" stroke="#cacaca" stroke-width="0.7"/><line x1="2.3" y1="7.1" x2="7.1" y2="2.3" stroke="#b4b4b4" stroke-width="0.9"/></svg>
<svg class="a" style="left:273px;top:382px" width="10" height="10" viewBox="0 0 10 10"><circle cx="5" cy="5" r="4.5" fill="url(#pg)" stroke="#cacaca" stroke-width="0.7"/><line x1="2.3" y1="7.1" x2="7.1" y2="2.3" stroke="#b4b4b4" stroke-width="0.9"/></svg>
<svg class="a" style="left:292px;top:382px" width="10" height="10" viewBox="0 0 10 10"><circle cx="5" cy="5" r="4.5" fill="url(#pg)" stroke="#cacaca" stroke-width="0.7"/><line x1="2.3" y1="7.1" x2="7.1" y2="2.3" stroke="#b4b4b4" stroke-width="0.9"/></svg>
<svg class="a" style="left:311px;top:382px" width="10" height="10" viewBox="0 0 10 10"><circle cx="5" cy="5" r="4.5" fill="url(#pg)" stroke="#cacaca" stroke-width="0.7"/><line x1="2.3" y1="7.1" x2="7.1" y2="2.3" stroke="#b4b4b4" stroke-width="0.9"/></svg>
<svg class="a" style="left:329px;top:382px" width="10" height="10" viewBox="0 0 10 10"><circle cx="5" cy="5" r="4.5" fill="url(#pg)" stroke="#cacaca" stroke-width="0.7"/><line x1="2.3" y1="7.1" x2="7.1" y2="2.3" stroke="#b4b4b4" stroke-width="0.9"/></svg>
<svg class="a" style="left:348px;top:382px" width="10" height="10" viewBox="0 0 10 10"><circle cx="5" cy="5" r="4.5" fill="url(#pg)" stroke="#cacaca" stroke-width="0.7"/><line x1="2.3" y1="7.1" x2="7.1" y2="2.3" stroke="#b4b4b4" stroke-width="0.9"/></svg>
<svg class="a" style="left:366px;top:382px" width="10" height="10" viewBox="0 0 10 10"><circle cx="5" cy="5" r="4.5" fill="url(#pg)" stroke="#cacaca" stroke-width="0.7"/><line x1="2.3" y1="7.1" x2="7.1" y2="2.3" stroke="#b4b4b4" stroke-width="0.9"/></svg>
<svg class="a" style="left:385px;top:382px" width="10" height="10" viewBox="0 0 10 10"><circle cx="5" cy="5" r="4.5" fill="url(#pg)" stroke="#cacaca" stroke-width="0.7"/><line x1="2.3" y1="7.1" x2="7.1" y2="2.3" stroke="#b4b4b4" stroke-width="0.9"/></svg>
<svg class="a" style="left:403px;top:382px" width="10" height="10" viewBox="0 0 10 10"><circle cx="5" cy="5" r="4.5" fill="url(#pg)" stroke="#cacaca" stroke-width="0.7"/><line x1="2.3" y1="7.1" x2="7.1" y2="2.3" stroke="#b4b4b4" stroke-width="0.9"/></svg>
<svg class="a" style="left:422px;top:382px" width="10" height="10" viewBox="0 0 10 10"><circle cx="5" cy="5" r="4.5" fill="url(#pg)" stroke="#cacaca" stroke-width="0.7"/><line x1="2.3" y1="7.1" x2="7.1" y2="2.3" stroke="#b4b4b4" stroke-width="0.9"/></svg>
<svg class="a" style="left:515px;top:382px" width="10" height="10" viewBox="0 0 10 10"><circle cx="5" cy="5" r="4.5" fill="url(#pg)" stroke="#cacaca" stroke-width="0.7"/><line x1="2.3" y1="7.1" x2="7.1" y2="2.3" stroke="#b4b4b4" stroke-width="0.9"/></svg>
<div class="a" style="left:660px;top:417px;width:17px;height:19px;background:#8fd7f2"></div>
<div class="a" style="left:436px;top:419px;width:1px;height:29px;background:#555"></div>
<div class="a" style="left:46px;top:448px;width:576px;height:1px;background:#e6e6e6"></div>
<svg class="a" style="left:528px;top:486px" width="8" height="7" viewBox="0 0 8 7"><path d="M4 6.4 C2.6 5.3 0.7 3.9 0.7 2.4 C0.7 1.3 1.5 0.7 2.3 0.7 C3.1 0.7 3.7 1.2 4 1.8 C4.3 1.2 4.9 0.7 5.7 0.7 C6.5 0.7 7.3 1.3 7.3 2.4 C7.3 3.9 5.4 5.3 4 6.4Z" fill="#fff" stroke="#f0668b" stroke-width="1.15" stroke-linejoin="round"/></svg>
<svg class="a" style="left:528px;top:498px" width="10" height="10" viewBox="0 0 10 10"><circle cx="5" cy="5" r="4.5" fill="url(#pg)" stroke="#cacaca" stroke-width="0.7"/><line x1="2.3" y1="7.1" x2="7.1" y2="2.3" stroke="#b4b4b4" stroke-width="0.9"/></svg>
<svg class="a" style="left:528px;top:512px" width="8" height="10" viewBox="0 0 8 10"><path d="M7.68 0.78 A5 5 0 1 0 7.68 9.22 A4.3 4.3 0 0 1 7.68 0.78Z" fill="url(#mg)"/></svg>
<div class="a" style="left:45px;top:572px;width:578px;height:1px;background:#ececec"></div>
<svg class="a" style="left:0;top:0;will-change:transform" width="770" height="574" viewBox="0 0 770 574">
<text x="27.36" y="11" font-size="13" textLength="12.05" lengthAdjust="spacingAndGlyphs" fill="#5a5a5a" stroke="#5a5a5a" stroke-width="0">°C</text>
<text x="23.75" y="32" font-size="9.2" textLength="17.94" lengthAdjust="spacingAndGlyphs" fill="#555555" stroke="#555555" stroke-width="0.1">37.5</text>
<text x="23.75" y="53" font-size="9.2" textLength="17.94" lengthAdjust="spacingAndGlyphs" fill="#555555" stroke="#555555" stroke-width="0.1">37.4</text>
<text x="23.75" y="73" font-size="9.2" textLength="17.94" lengthAdjust="spacingAndGlyphs" fill="#555555" stroke="#555555" stroke-width="0.1">37.3</text>
<text x="23.75" y="94" font-size="9.2" textLength="17.94" lengthAdjust="spacingAndGlyphs" fill="#555555" stroke="#555555" stroke-width="0.1">37.2</text>
<text x="23.75" y="114" font-size="9.2" textLength="17.94" lengthAdjust="spacingAndGlyphs" fill="#555555" stroke="#555555" stroke-width="0.1">37.1</text>
<text x="23.75" y="135" font-size="9.2" textLength="10.25" lengthAdjust="spacingAndGlyphs" fill="#555555" stroke="#555555" stroke-width="0.1">37</text>
<text x="23.75" y="156" font-size="9.2" textLength="17.94" lengthAdjust="spacingAndGlyphs" fill="#555555" stroke="#555555" stroke-width="0.1">36.9</text>
<text x="23.75" y="176" font-size="9.2" textLength="17.94" lengthAdjust="spacingAndGlyphs" fill="#555555" stroke="#555555" stroke-width="0.1">36.8</text>
<text x="23.75" y="197" font-size="9.2" textLength="17.94" lengthAdjust="spacingAndGlyphs" fill="#555555" stroke="#555555" stroke-width="0.1">36.7</text>
<text x="23.75" y="217" font-size="9.2" textLength="17.94" lengthAdjust="spacingAndGlyphs" fill="#555555" stroke="#555555" stroke-width="0.1">36.6</text>
<text x="23.75" y="238" font-size="9.2" textLength="17.94" lengthAdjust="spacingAndGlyphs" fill="#555555" stroke="#555555" stroke-width="0.1">36.5</text>
<text x="23.75" y="258" font-size="9.2" textLength="17.94" lengthAdjust="spacingAndGlyphs" fill="#555555" stroke="#555555" stroke-width="0.1">36.4</text>
<text x="23.75" y="279" font-size="9.2" textLength="17.94" lengthAdjust="spacingAndGlyphs" fill="#555555" stroke="#555555" stroke-width="0.1">36.3</text>
<text x="23.75" y="299" font-size="9.2" textLength="17.94" lengthAdjust="spacingAndGlyphs" fill="#555555" stroke="#555555" stroke-width="0.1">36.2</text>
<text x="53.64" y="19" font-size="10" textLength="76.96" lengthAdjust="spacingAndGlyphs" fill="#555555" stroke="#555555" stroke-width="0.1">Средняя t° 1 фаза</text>
<text x="135.59" y="19" font-size="12.5" textLength="35.82" lengthAdjust="spacingAndGlyphs" fill="#606060" stroke="#606060" stroke-width="0.05">36.5 °C</text>
<text x="446.80" y="19" font-size="10" textLength="28.80" lengthAdjust="spacingAndGlyphs" fill="#555555" stroke="#555555" stroke-width="0.1">2 фаза</text>
<text x="479.88" y="19" font-size="12.5" textLength="36.53" lengthAdjust="spacingAndGlyphs" fill="#606060" stroke="#606060" stroke-width="0.05">36.9 °C</text>
<text x="534.22" y="19" font-size="10" textLength="46.35" lengthAdjust="spacingAndGlyphs" fill="#555555" stroke="#555555" stroke-width="0.1">Разница t°</text>
<text x="582.57" y="19" font-size="12.5" textLength="30.85" lengthAdjust="spacingAndGlyphs" fill="#606060" stroke="#606060" stroke-width="0.05">0.4 °C</text>
<circle cx="427.5" cy="16" r="5.3" fill="#fff6d8" stroke="#fbd36b" stroke-width="1"/>
<circle cx="427.5" cy="16" r="3.2" fill="#f9b53a"/>
<text x="440.14" y="42" font-size="9.5" textLength="10.21" lengthAdjust="spacingAndGlyphs" fill="#555555" stroke="#555555" stroke-width="0.1">01</text>
<text x="458.65" y="42" font-size="9.5" textLength="10.21" lengthAdjust="spacingAndGlyphs" fill="#555555" stroke="#555555" stroke-width="0.1">02</text>
<text x="477.62" y="42" font-size="9.5" textLength="10.21" lengthAdjust="spacingAndGlyphs" fill="#555555" stroke="#555555" stroke-width="0.1">03</text>
<text x="496.05" y="42" font-size="9.5" textLength="10.21" lengthAdjust="spacingAndGlyphs" fill="#555555" stroke="#555555" stroke-width="0.1">04</text>
<text x="514.61" y="42" font-size="9.5" textLength="10.21" lengthAdjust="spacingAndGlyphs" fill="#555555" stroke="#555555" stroke-width="0.1">05</text>
<text x="533.12" y="42" font-size="9.5" textLength="10.21" lengthAdjust="spacingAndGlyphs" fill="#555555" stroke="#555555" stroke-width="0.1">06</text>
<text x="551.65" y="42" font-size="9.5" textLength="10.21" lengthAdjust="spacingAndGlyphs" fill="#555555" stroke="#555555" stroke-width="0.1">07</text>
<text x="570.12" y="42" font-size="9.5" textLength="10.21" lengthAdjust="spacingAndGlyphs" fill="#555555" stroke="#555555" stroke-width="0.1">08</text>
<text x="588.63" y="42" font-size="9.5" textLength="10.21" lengthAdjust="spacingAndGlyphs" fill="#555555" stroke="#555555" stroke-width="0.1">09</text>
<text x="607.43" y="42" font-size="9.5" textLength="10.21" lengthAdjust="spacingAndGlyphs" fill="#555555" stroke="#555555" stroke-width="0.1">10</text>
<text x="625.97" y="42" font-size="9.5" textLength="10.21" lengthAdjust="spacingAndGlyphs" fill="#555555" stroke="#555555" stroke-width="0.1">11</text>
<text x="644.48" y="42" font-size="9.5" textLength="10.21" lengthAdjust="spacingAndGlyphs" fill="#555555" stroke="#555555" stroke-width="0.1">12</text>
<text x="662.95" y="42" font-size="9.5" textLength="10.21" lengthAdjust="spacingAndGlyphs" fill="#555555" stroke="#555555" stroke-width="0.1">13</text>
<text x="681.38" y="42" font-size="9.5" textLength="10.21" lengthAdjust="spacingAndGlyphs" fill="#555555" stroke="#555555" stroke-width="0.1">14</text>
<text x="699.94" y="42" font-size="9.5" textLength="10.21" lengthAdjust="spacingAndGlyphs" fill="#555555" stroke="#555555" stroke-width="0.1">15</text>
<text x="718.45" y="42" font-size="9.5" textLength="10.21" lengthAdjust="spacingAndGlyphs" fill="#555555" stroke="#555555" stroke-width="0.1">16</text>
<text x="-0.44" y="0" font-size="10.2" textLength="52.19" lengthAdjust="spacingAndGlyphs" fill="#505050" stroke="#505050" stroke-width="0.02" transform="translate(430.6 85) rotate(-90)">ОВУЛЯЦИЯ</text>
<text x="50.64" y="309" font-size="9.5" textLength="10.21" lengthAdjust="spacingAndGlyphs" fill="#555555" stroke="#555555" stroke-width="0.1">01</text>
<text x="69.15" y="309" font-size="9.5" textLength="10.21" lengthAdjust="spacingAndGlyphs" fill="#555555" stroke="#555555" stroke-width="0.1">02</text>
<text x="87.62" y="309" font-size="9.5" textLength="10.21" lengthAdjust="spacingAndGlyphs" fill="#555555" stroke="#555555" stroke-width="0.1">03</text>
<text x="106.05" y="309" font-size="9.5" textLength="10.21" lengthAdjust="spacingAndGlyphs" fill="#555555" stroke="#555555" stroke-width="0.1">04</text>
<text x="124.61" y="309" font-size="9.5" textLength="10.21" lengthAdjust="spacingAndGlyphs" fill="#555555" stroke="#555555" stroke-width="0.1">05</text>
<text x="143.12" y="309" font-size="9.5" textLength="10.21" lengthAdjust="spacingAndGlyphs" fill="#555555" stroke="#555555" stroke-width="0.1">06</text>
<text x="161.65" y="309" font-size="9.5" textLength="10.21" lengthAdjust="spacingAndGlyphs" fill="#555555" stroke="#555555" stroke-width="0.1">07</text>
<text x="180.62" y="309" font-size="9.5" textLength="10.21" lengthAdjust="spacingAndGlyphs" fill="#555555" stroke="#555555" stroke-width="0.1">08</text>
<text x="199.13" y="309" font-size="9.5" textLength="10.21" lengthAdjust="spacingAndGlyphs" fill="#555555" stroke="#555555" stroke-width="0.1">09</text>
<text x="217.43" y="309" font-size="9.5" textLength="10.21" lengthAdjust="spacingAndGlyphs" fill="#555555" stroke="#555555" stroke-width="0.1">10</text>
<text x="235.97" y="309" font-size="9.5" textLength="10.21" lengthAdjust="spacingAndGlyphs" fill="#555555" stroke="#555555" stroke-width="0.1">11</text>
<text x="254.48" y="309" font-size="9.5" textLength="10.21" lengthAdjust="spacingAndGlyphs" fill="#555555" stroke="#555555" stroke-width="0.1">12</text>
<text x="272.95" y="309" font-size="9.5" textLength="10.21" lengthAdjust="spacingAndGlyphs" fill="#555555" stroke="#555555" stroke-width="0.1">13</text>
<text x="291.38" y="309" font-size="9.5" textLength="10.21" lengthAdjust="spacingAndGlyphs" fill="#555555" stroke="#555555" stroke-width="0.1">14</text>
<text x="310.44" y="309" font-size="9.5" textLength="10.21" lengthAdjust="spacingAndGlyphs" fill="#555555" stroke="#555555" stroke-width="0.1">15</text>
<text x="328.95" y="309" font-size="9.5" textLength="10.21" lengthAdjust="spacingAndGlyphs" fill="#555555" stroke="#555555" stroke-width="0.1">16</text>
<text x="347.48" y="309" font-size="9.5" textLength="10.21" lengthAdjust="spacingAndGlyphs" fill="#555555" stroke="#555555" stroke-width="0.1">17</text>
<text x="365.95" y="309" font-size="9.5" textLength="10.21" lengthAdjust="spacingAndGlyphs" fill="#555555" stroke="#555555" stroke-width="0.1">18</text>
<text x="384.46" y="309" font-size="9.5" textLength="10.21" lengthAdjust="spacingAndGlyphs" fill="#555555" stroke="#555555" stroke-width="0.1">19</text>
<text x="403.05" y="309" font-size="9.5" textLength="10.21" lengthAdjust="spacingAndGlyphs" fill="#555555" stroke="#555555" stroke-width="0.1">20</text>
<text x="421.59" y="309" font-size="9.5" textLength="10.21" lengthAdjust="spacingAndGlyphs" fill="#555555" stroke="#555555" stroke-width="0.1">21</text>
<text x="440.10" y="309" font-size="9.5" textLength="10.21" lengthAdjust="spacingAndGlyphs" fill="#555555" stroke="#555555" stroke-width="0.1">22</text>
<text x="458.57" y="309" font-size="9.5" textLength="10.21" lengthAdjust="spacingAndGlyphs" fill="#555555" stroke="#555555" stroke-width="0.1">23</text>
<text x="477.50" y="309" font-size="9.5" textLength="10.21" lengthAdjust="spacingAndGlyphs" fill="#555555" stroke="#555555" stroke-width="0.1">24</text>
<text x="496.06" y="309" font-size="9.5" textLength="10.21" lengthAdjust="spacingAndGlyphs" fill="#555555" stroke="#555555" stroke-width="0.1">25</text>
<text x="514.57" y="309" font-size="9.5" textLength="10.21" lengthAdjust="spacingAndGlyphs" fill="#555555" stroke="#555555" stroke-width="0.1">26</text>
<text x="533.10" y="309" font-size="9.5" textLength="10.21" lengthAdjust="spacingAndGlyphs" fill="#555555" stroke="#555555" stroke-width="0.1">27</text>
<text x="551.57" y="309" font-size="9.5" textLength="10.21" lengthAdjust="spacingAndGlyphs" fill="#555555" stroke="#555555" stroke-width="0.1">28</text>
<text x="570.08" y="309" font-size="9.5" textLength="10.21" lengthAdjust="spacingAndGlyphs" fill="#555555" stroke="#555555" stroke-width="0.1">29</text>
<text x="588.60" y="309" font-size="9.5" textLength="10.21" lengthAdjust="spacingAndGlyphs" fill="#555555" stroke="#555555" stroke-width="0.1">30</text>
<text x="607.65" y="309" font-size="9.5" textLength="10.21" lengthAdjust="spacingAndGlyphs" fill="#555555" stroke="#555555" stroke-width="0.1">31</text>
<text x="626.15" y="309" font-size="9.5" textLength="10.21" lengthAdjust="spacingAndGlyphs" fill="#555555" stroke="#555555" stroke-width="0.1">32</text>
<text x="644.62" y="309" font-size="9.5" textLength="10.21" lengthAdjust="spacingAndGlyphs" fill="#555555" stroke="#555555" stroke-width="0.1">33</text>
<text x="661.15" y="309.6" font-size="10.8" textLength="11.60" lengthAdjust="spacingAndGlyphs" fill="#555555" stroke="#555555" stroke-width="0.1">34</text>
<text x="681.61" y="309" font-size="9.5" textLength="10.21" lengthAdjust="spacingAndGlyphs" fill="#555555" stroke="#555555" stroke-width="0.1">35</text>
<text x="700.12" y="309" font-size="9.5" textLength="10.21" lengthAdjust="spacingAndGlyphs" fill="#555555" stroke="#555555" stroke-width="0.1">36</text>
<text x="718.65" y="309" font-size="9.5" textLength="10.21" lengthAdjust="spacingAndGlyphs" fill="#555555" stroke="#555555" stroke-width="0.1">37</text>
<path d="M0.5 0 C0.5 0 1 0.45 1 0.68 A0.5 0.32 0 0 1 0 0.68 C0 0.45 0.5 0 0.5 0Z" fill="#ef3468" transform="translate(54.2 322.2) scale(4.7 8.4)"/>
<path d="M0.5 0 C0.5 0 1 0.45 1 0.68 A0.5 0.32 0 0 1 0 0.68 C0 0.45 0.5 0 0.5 0Z" fill="#ef3468" transform="translate(50.5 326.7) scale(3.5 5.7)"/>
<path d="M0.5 0 C0.5 0 1 0.45 1 0.68 A0.5 0.32 0 0 1 0 0.68 C0 0.45 0.5 0 0.5 0Z" fill="#ef3468" transform="translate(73.2 322.2) scale(4.7 8.4)"/>
<path d="M0.5 0 C0.5 0 1 0.45 1 0.68 A0.5 0.32 0 0 1 0 0.68 C0 0.45 0.5 0 0.5 0Z" fill="#ef3468" transform="translate(69.5 326.7) scale(3.5 5.7)"/>
<path d="M0.5 0 C0.5 0 1 0.45 1 0.68 A0.5 0.32 0 0 1 0 0.68 C0 0.45 0.5 0 0.5 0Z" fill="#ef3468" transform="translate(91.2 322.2) scale(4.7 8.4)"/>
<path d="M0.5 0 C0.5 0 1 0.45 1 0.68 A0.5 0.32 0 0 1 0 0.68 C0 0.45 0.5 0 0.5 0Z" fill="#ef3468" transform="translate(87.5 326.7) scale(3.5 5.7)"/>
<path d="M0.5 0 C0.5 0 1 0.45 1 0.68 A0.5 0.32 0 0 1 0 0.68 C0 0.45 0.5 0 0.5 0Z" fill="#ef3468" transform="translate(109.4 325.2) scale(3.3 5.4)"/>
<path d="M0.5 0 C0.5 0 1 0.45 1 0.68 A0.5 0.32 0 0 1 0 0.68 C0 0.45 0.5 0 0.5 0Z" fill="#ef3468" transform="translate(127.4 325.2) scale(3.3 5.4)"/>
<text x="50.47" y="431" font-size="9.5" textLength="10.21" lengthAdjust="spacingAndGlyphs" fill="#555555" stroke="#555555" stroke-width="0.1">11</text>
<text x="68.98" y="431" font-size="9.5" textLength="10.21" lengthAdjust="spacingAndGlyphs" fill="#ee2a5f" stroke="#ee2a5f" stroke-width="0.1">12</text>
<text x="87.45" y="431" font-size="9.5" textLength="10.21" lengthAdjust="spacingAndGlyphs" fill="#ee2a5f" stroke="#ee2a5f" stroke-width="0.1">13</text>
<text x="105.88" y="431" font-size="9.5" textLength="10.21" lengthAdjust="spacingAndGlyphs" fill="#555555" stroke="#555555" stroke-width="0.1">14</text>
<text x="124.44" y="431" font-size="9.5" textLength="10.21" lengthAdjust="spacingAndGlyphs" fill="#555555" stroke="#555555" stroke-width="0.1">15</text>
<text x="142.95" y="431" font-size="9.5" textLength="10.21" lengthAdjust="spacingAndGlyphs" fill="#555555" stroke="#555555" stroke-width="0.1">16</text>
<text x="161.48" y="431" font-size="9.5" textLength="10.21" lengthAdjust="spacingAndGlyphs" fill="#555555" stroke="#555555" stroke-width="0.1">17</text>
<text x="180.45" y="431" font-size="9.5" textLength="10.21" lengthAdjust="spacingAndGlyphs" fill="#555555" stroke="#555555" stroke-width="0.1">18</text>
<text x="198.96" y="431" font-size="9.5" textLength="10.21" lengthAdjust="spacingAndGlyphs" fill="#ee2a5f" stroke="#ee2a5f" stroke-width="0.1">19</text>
<text x="217.55" y="431" font-size="9.5" textLength="10.21" lengthAdjust="spacingAndGlyphs" fill="#ee2a5f" stroke="#ee2a5f" stroke-width="0.1">20</text>
<text x="236.09" y="431" font-size="9.5" textLength="10.21" lengthAdjust="spacingAndGlyphs" fill="#555555" stroke="#555555" stroke-width="0.1">21</text>
<text x="254.60" y="431" font-size="9.5" textLength="10.21" lengthAdjust="spacingAndGlyphs" fill="#555555" stroke="#555555" stroke-width="0.1">22</text>
<text x="273.07" y="431" font-size="9.5" textLength="10.21" lengthAdjust="spacingAndGlyphs" fill="#555555" stroke="#555555" stroke-width="0.1">23</text>
<text x="291.50" y="431" font-size="9.5" textLength="10.21" lengthAdjust="spacingAndGlyphs" fill="#555555" stroke="#555555" stroke-width="0.1">24</text>
<text x="310.56" y="431" font-size="9.5" textLength="10.21" lengthAdjust="spacingAndGlyphs" fill="#555555" stroke="#555555" stroke-width="0.1">25</text>
<text x="329.07" y="431" font-size="9.5" textLength="10.21" lengthAdjust="spacingAndGlyphs" fill="#ee2a5f" stroke="#ee2a5f" stroke-width="0.1">26</text>
<text x="347.60" y="431" font-size="9.5" textLength="10.21" lengthAdjust="spacingAndGlyphs" fill="#ee2a5f" stroke="#ee2a5f" stroke-width="0.1">27</text>
<text x="366.07" y="431" font-size="9.5" textLength="10.21" lengthAdjust="spacingAndGlyphs" fill="#555555" stroke="#555555" stroke-width="0.1">28</text>
<text x="384.58" y="431" font-size="9.5" textLength="10.21" lengthAdjust="spacingAndGlyphs" fill="#555555" stroke="#555555" stroke-width="0.1">29</text>
<text x="403.10" y="431" font-size="9.5" textLength="10.21" lengthAdjust="spacingAndGlyphs" fill="#555555" stroke="#555555" stroke-width="0.1">30</text>
<text x="421.65" y="431" font-size="9.5" textLength="10.21" lengthAdjust="spacingAndGlyphs" fill="#555555" stroke="#555555" stroke-width="0.1">31</text>
<text x="440.14" y="431" font-size="9.5" textLength="10.21" lengthAdjust="spacingAndGlyphs" fill="#555555" stroke="#555555" stroke-width="0.1">01</text>
<text x="458.65" y="431" font-size="9.5" textLength="10.21" lengthAdjust="spacingAndGlyphs" fill="#ee2a5f" stroke="#ee2a5f" stroke-width="0.1">02</text>
<text x="477.62" y="431" font-size="9.5" textLength="10.21" lengthAdjust="spacingAndGlyphs" fill="#ee2a5f" stroke="#ee2a5f" stroke-width="0.1">03</text>
<text x="496.05" y="431" font-size="9.5" textLength="10.21" lengthAdjust="spacingAndGlyphs" fill="#555555" stroke="#555555" stroke-width="0.1">04</text>
<text x="514.61" y="431" font-size="9.5" textLength="10.21" lengthAdjust="spacingAndGlyphs" fill="#555555" stroke="#555555" stroke-width="0.1">05</text>
<text x="533.12" y="431" font-size="9.5" textLength="10.21" lengthAdjust="spacingAndGlyphs" fill="#555555" stroke="#555555" stroke-width="0.1">06</text>
<text x="551.65" y="431" font-size="9.5" textLength="10.21" lengthAdjust="spacingAndGlyphs" fill="#555555" stroke="#555555" stroke-width="0.1">07</text>
<text x="570.12" y="431" font-size="9.5" textLength="10.21" lengthAdjust="spacingAndGlyphs" fill="#555555" stroke="#555555" stroke-width="0.1">08</text>
<text x="588.63" y="431" font-size="9.5" textLength="10.21" lengthAdjust="spacingAndGlyphs" fill="#ee2a5f" stroke="#ee2a5f" stroke-width="0.1">09</text>
<text x="607.43" y="431" font-size="9.5" textLength="10.21" lengthAdjust="spacingAndGlyphs" fill="#ee2a5f" stroke="#ee2a5f" stroke-width="0.1">10</text>
<text x="625.97" y="431" font-size="9.5" textLength="10.21" lengthAdjust="spacingAndGlyphs" fill="#555555" stroke="#555555" stroke-width="0.1">11</text>
<text x="644.48" y="431" font-size="9.5" textLength="10.21" lengthAdjust="spacingAndGlyphs" fill="#555555" stroke="#555555" stroke-width="0.1">12</text>
<text x="661.03" y="430.2" font-size="10.8" textLength="11.60" lengthAdjust="spacingAndGlyphs" fill="#555555" stroke="#555555" stroke-width="0.1">13</text>
<path d="M666.2 436 L668.2 433.8 L670.2 436Z" fill="#fff"/>
<text x="681.38" y="431" font-size="9.5" textLength="10.21" lengthAdjust="spacingAndGlyphs" fill="#555555" stroke="#555555" stroke-width="0.1">14</text>
<text x="699.94" y="431" font-size="9.5" textLength="10.21" lengthAdjust="spacingAndGlyphs" fill="#555555" stroke="#555555" stroke-width="0.1">15</text>
<text x="718.45" y="431" font-size="9.5" textLength="10.21" lengthAdjust="spacingAndGlyphs" fill="#ee2a5f" stroke="#ee2a5f" stroke-width="0.1">16</text>
<text x="15.97" y="446.8" font-size="11" textLength="43.29" lengthAdjust="spacingAndGlyphs" fill="#666" stroke="#666" stroke-width="0.1">Октябрь</text>
<text x="439.12" y="446.8" font-size="11" textLength="37.32" lengthAdjust="spacingAndGlyphs" fill="#666" stroke="#666" stroke-width="0.1">Ноябрь</text>
<text x="50.38" y="479" font-size="9.5" textLength="54.23" lengthAdjust="spacingAndGlyphs" fill="#2a2a2a" stroke="#2a2a2a" stroke-width="0.45">Менструация</text>
<path d="M0.5 0 C0.5 0 1 0.45 1 0.68 A0.5 0.32 0 0 1 0 0.68 C0 0.45 0.5 0 0.5 0Z" fill="#ef3468" transform="translate(55.4 484.7) scale(4.7 8.4)"/>
<path d="M0.5 0 C0.5 0 1 0.45 1 0.68 A0.5 0.32 0 0 1 0 0.68 C0 0.45 0.5 0 0.5 0Z" fill="#ef3468" transform="translate(51.8 489.1) scale(3.4 5.8)"/>
<text x="69.69" y="493" font-size="9.7" textLength="52.92" lengthAdjust="spacingAndGlyphs" fill="#5f5f5f" stroke="#5f5f5f" stroke-width="0.1">менструация</text>
<path d="M0.5 0 C0.5 0 1 0.45 1 0.68 A0.5 0.32 0 0 1 0 0.68 C0 0.45 0.5 0 0.5 0Z" fill="#ef3468" transform="translate(54.4 500.8) scale(3.2 5.6)"/>
<text x="69.70" y="506.5" font-size="9.7" textLength="92.19" lengthAdjust="spacingAndGlyphs" fill="#5f5f5f" stroke="#5f5f5f" stroke-width="0.1">небольшие выделения</text>
<text x="176.90" y="479" font-size="9.5" textLength="72.86" lengthAdjust="spacingAndGlyphs" fill="#2a2a2a" stroke="#2a2a2a" stroke-width="0.45">Тест на овуляцию</text>
<circle cx="183.4" cy="489.6" r="4.6" fill="#fff3d0" stroke="#f7c766" stroke-width="1"/><circle cx="183.4" cy="489.6" r="2.7" fill="#f7b440"/>
<text x="195.58" y="493" font-size="9.7" textLength="66.24" lengthAdjust="spacingAndGlyphs" fill="#5f5f5f" stroke="#5f5f5f" stroke-width="0.1">положительный</text>
<circle cx="183.4" cy="503.5" r="4.6" fill="#f3f3f3" stroke="#d0d0d0" stroke-width="1"/><circle cx="183.4" cy="503.5" r="2.3" fill="#b8b8b8"/>
<text x="195.83" y="506.5" font-size="9.7" textLength="62.87" lengthAdjust="spacingAndGlyphs" fill="#5f5f5f" stroke="#5f5f5f" stroke-width="0.1">отрицательный</text>
<text x="291.91" y="479" font-size="9.5" textLength="89.65" lengthAdjust="spacingAndGlyphs" fill="#2a2a2a" stroke="#2a2a2a" stroke-width="0.45">Тест на беременность</text>
<circle cx="299" cy="489.2" r="5.2" fill="#fff3d2" stroke="#f6c25c" stroke-width="0.9" stroke-dasharray="1.4 0.5"/><circle cx="298.7" cy="489" r="3.4" fill="#f5b94a"/><circle cx="301" cy="488.7" r="0.7" fill="#7a8a5a"/>
<text x="311.39" y="493" font-size="9.7" textLength="65.42" lengthAdjust="spacingAndGlyphs" fill="#5f5f5f" stroke="#5f5f5f" stroke-width="0.1">положительный</text>
<path d="M293.6 501.5 Q293.6 497.9 299 497.9 Q304.4 497.9 304.4 501.5 Q304.4 504.4 299 508.6 Q293.6 504.4 293.6 501.5Z" fill="#f6f6f6" stroke="#cfcfcf" stroke-width="0.9"/>
<text x="311.64" y="506.5" font-size="9.7" textLength="62.16" lengthAdjust="spacingAndGlyphs" fill="#5f5f5f" stroke="#5f5f5f" stroke-width="0.1">отрицательный</text>
<circle cx="299" cy="516.6" r="5.1" fill="#f2f2f2" stroke="#c4c4c4" stroke-width="0.9"/><circle cx="299.3" cy="516.9" r="3.3" fill="url(#gg)"/>
<text x="311.63" y="520" font-size="9.7" textLength="88.77" lengthAdjust="spacingAndGlyphs" fill="#5f5f5f" stroke="#5f5f5f" stroke-width="0.1">слабоположительный</text>
<text x="412.68" y="479" font-size="9.5" textLength="99.08" lengthAdjust="spacingAndGlyphs" fill="#2a2a2a" stroke="#2a2a2a" stroke-width="0.45">Цервикальная жидкость</text>
<text x="432.62" y="493" font-size="9.7" textLength="18.35" lengthAdjust="spacingAndGlyphs" fill="#5f5f5f" stroke="#5f5f5f" stroke-width="0.1">сухо</text>
<text x="432.39" y="506.5" font-size="9.7" textLength="33.24" lengthAdjust="spacingAndGlyphs" fill="#5f5f5f" stroke="#5f5f5f" stroke-width="0.1">клейкая</text>
<text x="432.42" y="520" font-size="9.7" textLength="61.78" lengthAdjust="spacingAndGlyphs" fill="#5f5f5f" stroke="#5f5f5f" stroke-width="0.1">кремообразная</text>
<text x="432.39" y="533.5" font-size="9.7" textLength="47.53" lengthAdjust="spacingAndGlyphs" fill="#5f5f5f" stroke="#5f5f5f" stroke-width="0.1">водянистая</text>
<text x="432.93" y="547" font-size="9.7" textLength="56.43" lengthAdjust="spacingAndGlyphs" fill="#5f5f5f" stroke="#5f5f5f" stroke-width="0.1">яичный белок</text>
<path d="M422.5 488L428.5 494M428.5 488L422.5 494" stroke="#999" stroke-width="0.8"/>
<path d="M422.5 501.5H428.5M425.5 501.5V507.5M422.5 507.5H428.5" stroke="#999" stroke-width="1"/>
<path d="M421.5 516 C421.5 512.5 429 512.5 429 517 C429 520 427 522 425 522.8 C426.5 521 426.5 519 424.5 519 C422.5 519 421.5 518 421.5 516Z" fill="#999"/>
<path d="M425.6 527 C425.6 529 428.3 531 428.3 532.5 A2.7 2.3 0 0 1 422.9 532.5 C422.9 531 425.6 529 425.6 527Z" fill="#999"/>
<ellipse cx="425.5" cy="545" rx="3.2" ry="4.2" fill="#999"/>
<text x="541.38" y="493" font-size="9.7" textLength="50.58" lengthAdjust="spacingAndGlyphs" fill="#5f5f5f" stroke="#5f5f5f" stroke-width="0.1">половой акт</text>
<text x="541.39" y="506.5" font-size="9.7" textLength="65.10" lengthAdjust="spacingAndGlyphs" fill="#5f5f5f" stroke="#5f5f5f" stroke-width="0.1">прием лекарств</text>
<text x="541.95" y="520" font-size="9.7" textLength="76.01" lengthAdjust="spacingAndGlyphs" fill="#5f5f5f" stroke="#5f5f5f" stroke-width="0.1">лунный календарь</text>
</svg>
</body></html>
